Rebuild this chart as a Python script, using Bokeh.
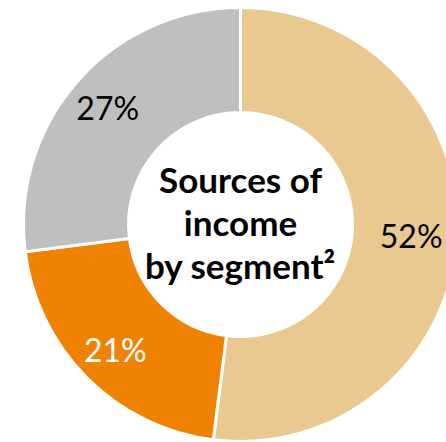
import math
from bokeh.plotting import figure
from bokeh.models import Range1d, ColumnDataSource
from bokeh.core.properties import value
from bokeh.embed import file_html
from bokeh.resources import INLINE

# Data
segments = ["Segment A", "Segment B", "Segment C"]
shares = [52, 21, 27]
labels = ["52%", "21%", "27%"]
colors = ["#E9C98F", "#EF8200", "#BFBFBF"]
label_colors = ["#000000", "#FFFFFF", "#000000"]
center_lines = ["Sources of", "income", "by segment²"]

W, H = 446, 442
cx, cy = 240, H - 224
r_out, r_in = 217, 112
r_lab = [171, 177, 177]  # label distance from centre, per slice

total = float(sum(shares))
starts, ends, lx, ly = [], [], [], []
cum = 0.0
for s, rl in zip(shares, r_lab):
    a0 = math.pi / 2 - 2 * math.pi * cum / total
    cum += s
    a1 = math.pi / 2 - 2 * math.pi * cum / total
    starts.append(a0)
    ends.append(a1)
    mid = (a0 + a1) / 2
    lx.append(cx + rl * math.cos(mid))
    ly.append(cy + rl * math.sin(mid))

src = ColumnDataSource(dict(seg=segments, start=starts, end=ends, color=colors,
                            lx=lx, ly=ly, label=labels, lcolor=label_colors))

p = figure(width=W, height=H, output_backend="svg", toolbar_location=None,
           x_range=Range1d(0, W), y_range=Range1d(0, H),
           min_border=0, outline_line_color=None)
p.axis.visible = False
p.grid.visible = False
p.background_fill_color = "white"
p.border_fill_color = "white"

p.annular_wedge(x=cx, y=cy, inner_radius=r_in, outer_radius=r_out,
                start_angle="start", end_angle="end", direction="clock",
                fill_color="color", line_color="white", line_width=3, source=src)

p.text(x="lx", y="ly", text="label", text_color="lcolor", source=src,
       text_align="center", text_baseline="middle",
       text_font=value("Lato"), text_font_size="32px")

line_gap = 43
text_cy = H - 221
ys = [text_cy + line_gap * (1 - i) for i in range(len(center_lines))]
p.text(x=[cx] * len(center_lines), y=ys, text=center_lines,
       text_align="center", text_baseline="middle",
       text_font=value("Lato"), text_font_size="35px", text_font_style="bold",
       text_color="black")

open("out.html", "w").write(file_html(p, INLINE))
